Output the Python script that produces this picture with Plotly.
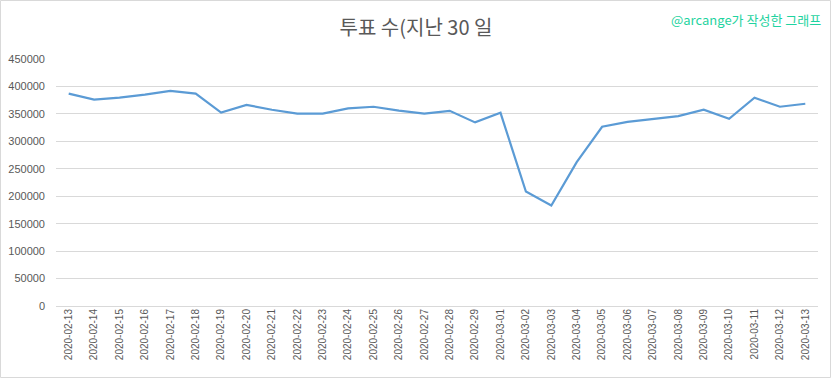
import plotly.graph_objects as go

dates = ["2020-02-13", "2020-02-14", "2020-02-15", "2020-02-16", "2020-02-17",
         "2020-02-18", "2020-02-19", "2020-02-20", "2020-02-21", "2020-02-22",
         "2020-02-23", "2020-02-24", "2020-02-25", "2020-02-26", "2020-02-27",
         "2020-02-28", "2020-02-29", "2020-03-01", "2020-03-02", "2020-03-03",
         "2020-03-04", "2020-03-05", "2020-03-06", "2020-03-07", "2020-03-08",
         "2020-03-09", "2020-03-10", "2020-03-11", "2020-03-12", "2020-03-13"]
votes = [387000, 376000, 379500, 385000, 392000,
         387000, 352500, 366500, 357500, 350500,
         350500, 360000, 363000, 356000, 350500,
         355500, 334500, 352000, 208500, 183000,
         262000, 326500, 335500, 341000, 346000,
         357500, 341000, 379500, 363000, 368500]
y_ticks = [0, 50000, 100000, 150000, 200000, 250000, 300000, 350000, 400000, 450000]

W, H = 832, 379
L, R, T, B = 56, 14, 59, 73
pw, ph = W - L - R, H - T - B

fig = go.Figure()
fig.add_trace(go.Scatter(
    x=dates, y=votes, mode="lines",
    line=dict(color="#5b9bd5", width=2.2),
    hoverinfo="x+y",
))

fig.update_layout(
    width=W, height=H,
    margin=dict(l=L, r=R, t=T, b=B, autoexpand=False),
    paper_bgcolor="white", plot_bgcolor="white",
    showlegend=False,
    font=dict(family="Noto Sans CJK KR, Noto Sans, sans-serif", color="#595959"),
    title=dict(
        text="투표 수(지난 30 일",
        x=0.5, xanchor="center", y=1 - 28 / H, yanchor="middle",
        font=dict(size=20, color="#595959", family="Noto Sans CJK KR"),
    ),
    xaxis=dict(
        type="category", tickangle=-90,
        tickfont=dict(size=10, color="#595959", family="Liberation Sans, Arial"),
        showgrid=False, showline=False, zeroline=False, ticks="",
        range=[-0.5, len(dates) - 0.5],
    ),
    yaxis=dict(
        range=[0, 450000], tickvals=y_ticks, ticktext=[str(v) for v in y_ticks],
        tickfont=dict(size=11, color="#595959", family="Liberation Sans, Arial"),
        showgrid=True, gridcolor="#d9d9d9", gridwidth=1,
        zeroline=True, zerolinecolor="#d9d9d9", zerolinewidth=1,
        showline=False, ticks="", ticklabelstandoff=10,
    ),
    annotations=[dict(
        text="@arcange가 작성한 그래프", xref="paper", yref="paper",
        x=(823 - L) / pw, y=1 + (T - 20) / ph, xanchor="right", yanchor="middle",
        showarrow=False,
        font=dict(size=13, color="#1fd3a0", family="Noto Sans CJK KR"),
    )],
    shapes=[dict(
        type="rect", xref="paper", yref="paper",
        x0=(0.5 - L) / pw, x1=(W - 1.5 - L) / pw,
        y0=-(H - 1.5 - T - ph) / ph, y1=1 + (T - 0.5) / ph,
        line=dict(color="#d9d9d9", width=1), layer="below",
    )],
)

fig.write_html(
    "out.html",
    config={"displayModeBar": False},
    post_script="document.body.style.margin='0';document.body.style.overflow='hidden';",
)
